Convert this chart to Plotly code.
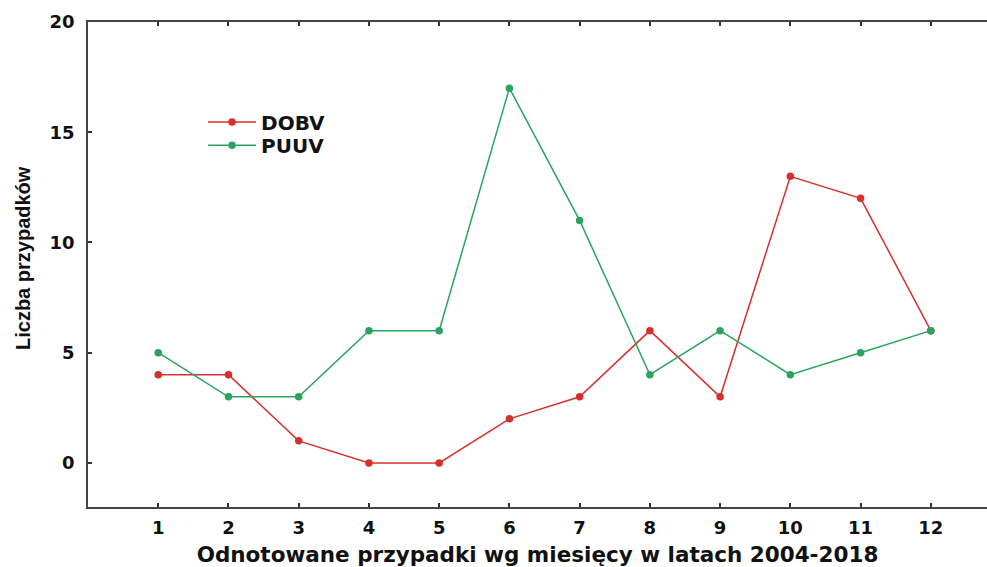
import plotly.graph_objects as go

months = [1, 2, 3, 4, 5, 6, 7, 8, 9, 10, 11, 12]
dobv = [4, 4, 1, 0, 0, 2, 3, 6, 3, 13, 12, 6]
puuv = [5, 3, 3, 6, 6, 17, 11, 4, 6, 4, 5, 6]
y_ticks = [0, 5, 10, 15, 20]

RED = "#d6302c"
GREEN = "#2aa35e"
WIDE = "DejaVu Sans, Verdana, sans-serif"
PLAIN = "Liberation Sans, Arial, sans-serif"

fig = go.Figure()
fig.add_trace(go.Scatter(
    x=months, y=dobv, name="DOBV", mode="lines+markers",
    line=dict(color=RED, width=1.5),
    marker=dict(color=RED, size=7.5),
    legend="legend",
))
fig.add_trace(go.Scatter(
    x=months, y=puuv, name="PUUV", mode="lines+markers",
    line=dict(color=GREEN, width=1.5),
    marker=dict(color=GREEN, size=7.5),
    legend="legend2",
))

legend_style = dict(
    x=0.128, xanchor="left", yanchor="middle",
    bgcolor="rgba(0,0,0,0)",
    font=dict(size=20, family=WIDE, weight="bold", color="#111111"),
    itemwidth=48,
)

fig.update_layout(
    width=987, height=567,
    margin=dict(l=88, r=0, t=22, b=60),
    paper_bgcolor="white", plot_bgcolor="white",
    font=dict(family=WIDE, color="#111111"),
    showlegend=True,
    legend=dict(y=0.794, **legend_style),
    legend2=dict(y=0.746, **legend_style),
    xaxis=dict(
        range=[0, 12.8],
        tickmode="array", tickvals=months, ticktext=[str(m) for m in months],
        ticks="inside", ticklen=4, tickwidth=1.5, tickcolor="#333333",
        showline=True, linecolor="#444444", linewidth=1.6, mirror="ticks",
        showgrid=False, zeroline=False,
        tickfont=dict(size=18, family=WIDE, weight="bold"),
        ticklabelstandoff=4,
        title=dict(
            text="Odnotowane przypadki wg miesięcy w latach 2004-2018",
            font=dict(size=21.5, family=WIDE, weight="bold"),
            standoff=10,
        ),
    ),
    yaxis=dict(
        range=[-2, 20],
        tickmode="array", tickvals=y_ticks, ticktext=[str(v) for v in y_ticks],
        ticks="inside", ticklen=4, tickwidth=1.5, tickcolor="#333333",
        showline=True, linecolor="#444444", linewidth=1.6,
        showgrid=False, zeroline=False,
        tickfont=dict(size=18, family=WIDE, weight="bold"),
        ticklabelstandoff=8,
    ),
    annotations=[dict(
        text="Liczba przypadków",
        xref="paper", yref="paper", x=-0.0723, y=0.5134,
        xanchor="center", yanchor="middle", textangle=-90,
        showarrow=False,
        font=dict(size=20, family=PLAIN, weight="bold", color="#111111"),
    )],
)

fig.write_html("out.html")
